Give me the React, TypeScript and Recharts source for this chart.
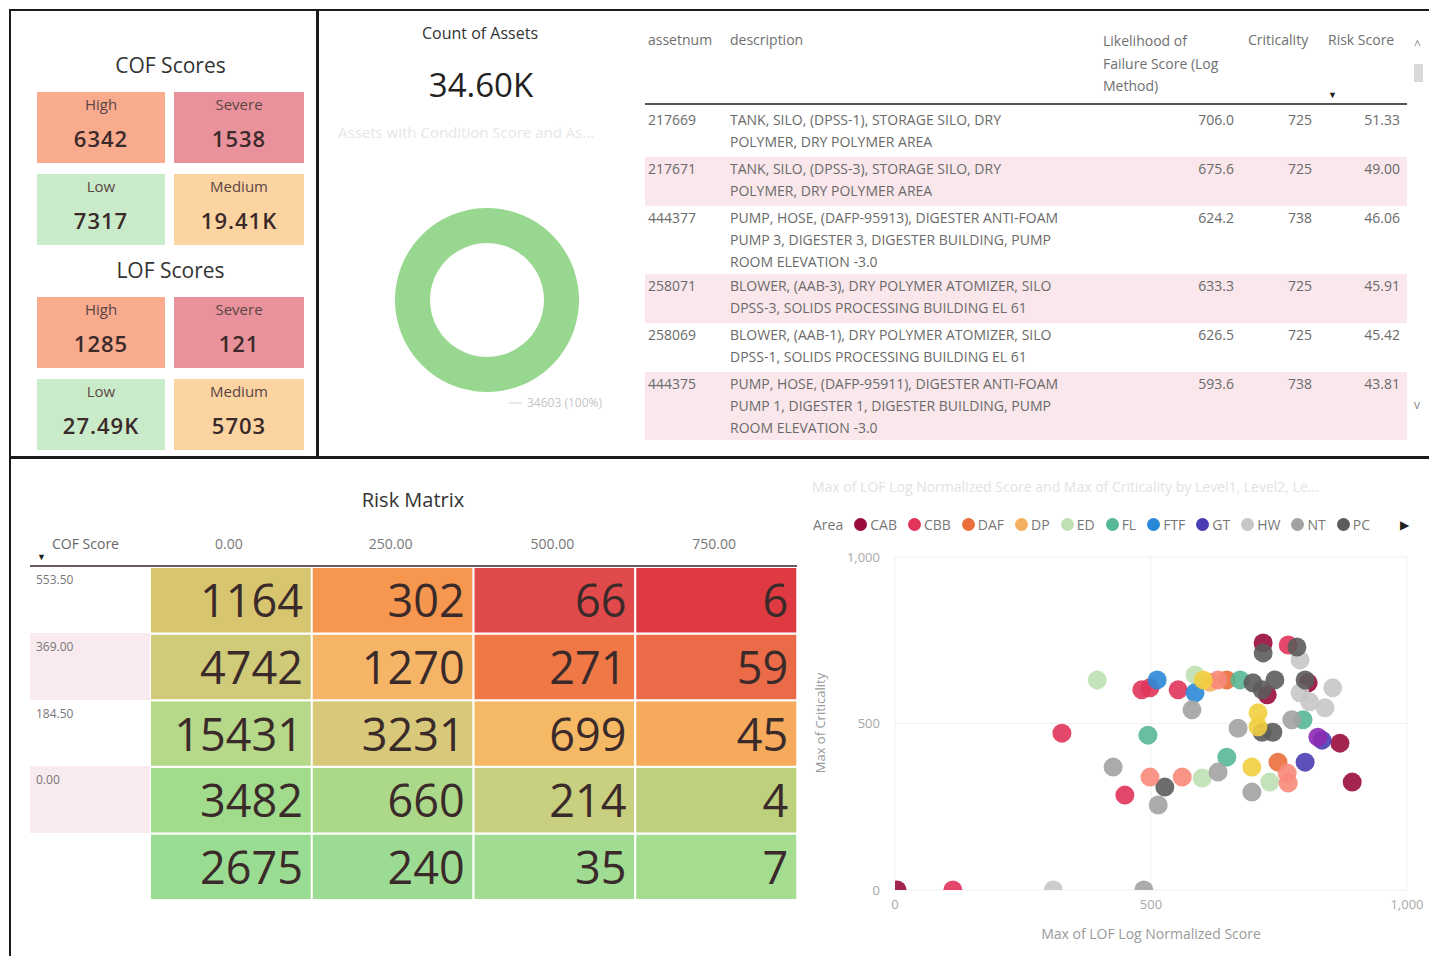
import React from "react";
import {
  PieChart,
  Pie,
  Cell,
  ScatterChart,
  Scatter,
  XAxis,
  YAxis,
  CartesianGrid,
  BarChart,
  Bar,
  LabelList,
} from "recharts";

const FONT = '"Segoe UI", "Open Sans", "Noto Sans", sans-serif';

// ---- score cards ----
const cardLabels = ["High", "Severe", "Low", "Medium"];
const cofValues = ["6342", "1538", "7317", "19.41K"];
const lofValues = ["1285", "121", "27.49K", "5703"];
const cardColors = ["#f9ab8e", "#e9929c", "#c9ebc9", "#fcd4a2"];

// ---- count of assets donut ----
const assetCount = [{ name: "Assets", value: 34603 }];
const assetCountLabel = "34.60K";

// ---- top assets table ----
const tableAssetnums = ["217669", "217671", "444377", "258071", "258069", "444375"];
const tableDescriptions = [
  ["TANK, SILO, (DPSS-1), STORAGE SILO, DRY", "POLYMER, DRY POLYMER AREA"],
  ["TANK, SILO, (DPSS-3), STORAGE SILO, DRY", "POLYMER, DRY POLYMER AREA"],
  ["PUMP, HOSE, (DAFP-95913), DIGESTER ANTI-FOAM", "PUMP 3, DIGESTER 3, DIGESTER BUILDING, PUMP", "ROOM ELEVATION -3.0"],
  ["BLOWER, (AAB-3), DRY POLYMER ATOMIZER, SILO", "DPSS-3, SOLIDS PROCESSING BUILDING EL 61"],
  ["BLOWER, (AAB-1), DRY POLYMER ATOMIZER, SILO", "DPSS-1, SOLIDS PROCESSING BUILDING EL 61"],
  ["PUMP, HOSE, (DAFP-95911), DIGESTER ANTI-FOAM", "PUMP 1, DIGESTER 1, DIGESTER BUILDING, PUMP", "ROOM ELEVATION -3.0"],
];
const tableLof = ["706.0", "675.6", "624.2", "633.3", "626.5", "593.6"];
const tableCrit = ["725", "725", "738", "725", "725", "738"];
const tableRisk = ["51.33", "49.00", "46.06", "45.91", "45.42", "43.81"];

// ---- risk matrix ----
const lofColumns = ["0.00", "250.00", "500.00", "750.00"];
const cofRows = ["553.50", "369.00", "184.50", "0.00", ""];
const matrixCounts = [
  [1164, 302, 66, 6],
  [4742, 1270, 271, 59],
  [15431, 3231, 699, 45],
  [3482, 660, 214, 4],
  [2675, 240, 35, 7],
];
const matrixColors = [
  ["#d8c56f", "#f6964f", "#e14a4a", "#df3a41"],
  ["#cfcb79", "#f6b566", "#ef7846", "#eb6a48"],
  ["#b5d889", "#d7c979", "#f5b966", "#f5ab5b"],
  ["#a1dc8d", "#acd889", "#c8cf7e", "#bdd07c"],
  ["#9adc92", "#9cdc92", "#a0dc91", "#a4dc90"],
];

// ---- scatter: LOF vs criticality by area ----
const areaNames = ["CAB", "CBB", "DAF", "DP", "ED", "FL", "FTF", "GT", "HW", "NT", "PC", "PS", "RAS", "SC"];
const areaColors = ["#9a0c3d", "#e0345a", "#ea6f3c", "#f4b060", "#bfe0b4", "#56b895", "#2a88d8", "#4a3db4", "#c6c6c6", "#a2a2a2", "#5c5c5c", "#f8897a", "#f2cf3f", "#8c2ab3"];
const legendCount = 11;

const cabPoints = [{ x: 727, y: 586 }, { x: 719, y: 742 }, { x: 807, y: 622 }, { x: 869, y: 441 }, { x: 893, y: 324 }, { x: 4, y: 0 }];
const cbbPoints = [{ x: 482, y: 601 }, { x: 498, y: 607 }, { x: 553, y: 601 }, { x: 768, y: 736 }, { x: 326, y: 471 }, { x: 449, y: 285 }, { x: 113, y: 0 }];
const dafPoints = [{ x: 648, y: 631 }, { x: 748, y: 384 }];
const dpPoints = [{ x: 615, y: 624 }];
const edPoints = [{ x: 395, y: 631 }, { x: 586, y: 646 }, { x: 600, y: 336 }, { x: 732, y: 324 }];
const flPoints = [{ x: 674, y: 631 }, { x: 797, y: 511 }, { x: 494, y: 465 }, { x: 648, y: 399 }];
const ftfPoints = [{ x: 512, y: 631 }, { x: 586, y: 592 }];
const gtPoints = [{ x: 834, y: 450 }, { x: 801, y: 384 }];
const hwPoints = [{ x: 791, y: 691 }, { x: 791, y: 592 }, { x: 855, y: 607 }, { x: 840, y: 547 }, { x: 810, y: 565 }, { x: 309, y: 0 }];
const ntPoints = [{ x: 580, y: 541 }, { x: 775, y: 511 }, { x: 670, y: 486 }, { x: 426, y: 369 }, { x: 631, y: 354 }, { x: 514, y: 255 }, { x: 697, y: 294 }, { x: 486, y: 0 }];
const pcPoints = [{ x: 699, y: 622 }, { x: 717, y: 601 }, { x: 742, y: 631 }, { x: 719, y: 712 }, { x: 785, y: 730 }, { x: 801, y: 631 }, { x: 738, y: 474 }, { x: 717, y: 474 }, { x: 527, y: 309 }];
const psPoints = [{ x: 631, y: 631 }, { x: 498, y: 339 }, { x: 561, y: 339 }, { x: 766, y: 351 }, { x: 768, y: 321 }];
const rasPoints = [{ x: 602, y: 631 }, { x: 709, y: 532 }, { x: 709, y: 490 }, { x: 697, y: 369 }];
const scPoints = [{ x: 826, y: 459 }];
const areaPoints = [cabPoints, cbbPoints, dafPoints, dpPoints, edPoints, flPoints, ftfPoints, gtPoints, hwPoints, ntPoints, pcPoints, psPoints, rasPoints, scPoints];
const scatterTicks = [0, 500, 1000];

const matrixData = lofColumns.map((col, c) => {
  const row: any = { col };
  cofRows.forEach((_, r) => {
    row[`r${r}`] = 1;
    row[`c${r}`] = matrixCounts[r][c];
  });
  return row;
});

function Card({ label, value, color, left, top, width, height }: any) {
  return (
    <div style={{ position: "absolute", left, top, width, height, background: color, textAlign: "center" }}>
      <div style={{ position: "absolute", top: 2, width: "100%", fontSize: 15, color: "#5a4545" }}>{label}</div>
      <div style={{ position: "absolute", top: 31, width: "100%", fontSize: 22, fontWeight: 600, letterSpacing: 1, color: "#3b2a2a" }}>{value}</div>
    </div>
  );
}

function ScoreBlock({ title, values, top }: any) {
  const cells = [
    [37, 0, 128],
    [174, 0, 130],
    [37, 82, 128],
    [174, 82, 130],
  ];
  return (
    <>
      <div style={{ position: "absolute", left: 37, top: top - 41, width: 267, textAlign: "center", fontSize: 21, color: "#333" }}>{title}</div>
      {values.map((v: string, i: number) => (
        <Card key={i} label={cardLabels[i]} value={v} color={cardColors[i]} left={cells[i][0]} top={top + cells[i][1]} width={cells[i][2]} height={71} />
      ))}
    </>
  );
}

const renderDonutLabel = (p: any) => {
  const { cx, cy, outerRadius, value, percent } = p;
  const y = cy + outerRadius + 11;
  return (
    <g>
      <line x1={cx + 22} y1={y} x2={cx + 35} y2={y} stroke="#d0d0d0" />
      <text x={cx + 40} y={y} dy={4} fontSize={12} fill="#c4c4c4" fontFamily={FONT}>
        {`${value} (${Math.round(percent * 100)}%)`}
      </text>
    </g>
  );
};

const MatrixLabel = (p: any) => {
  const { x, y, width, height, value } = p;
  return (
    <text x={x + width - 9} y={y + height / 2 + 17} textAnchor="end" fontSize={45} fill="#3b2a2a" fontFamily={FONT}>
      {value}
    </text>
  );
};

const Dot = (p: any) => <circle cx={p.cx} cy={p.cy} r={9.5} fill={p.fill} fillOpacity={0.9} />;

export default function App() {
  const rowTops: number[] = [];
  let acc = 108;
  tableDescriptions.forEach((lines) => {
    rowTops.push(acc);
    acc += 11 + 19 * lines.length;
  });

  return (
    <div style={{ position: "absolute", left: 0, top: 0, width: 1429, height: 956, overflow: "hidden", background: "#fff", fontFamily: FONT }}>
      {/* frame */}
      <div style={{ position: "absolute", left: 9, top: 9, width: 1420, height: 2, background: "#1a1a1a" }} />
      <div style={{ position: "absolute", left: 9, top: 9, width: 2, height: 947, background: "#1a1a1a" }} />
      <div style={{ position: "absolute", left: 316, top: 9, width: 3, height: 450, background: "#1a1a1a" }} />
      <div style={{ position: "absolute", left: 9, top: 456, width: 1420, height: 3, background: "#1a1a1a" }} />

      {/* score cards */}
      <ScoreBlock title="COF Scores" values={cofValues} top={92} />
      <ScoreBlock title="LOF Scores" values={lofValues} top={297} />

      {/* count of assets */}
      <div style={{ position: "absolute", left: 320, top: 22, width: 320, textAlign: "center", fontSize: 16, color: "#333" }}>Count of Assets</div>
      <div style={{ position: "absolute", left: 320, top: 62, width: 322, textAlign: "center", fontSize: 33, color: "#222" }}>{assetCountLabel}</div>
      <div style={{ position: "absolute", left: 338, top: 122, width: 290, fontSize: 15, color: "#e6e6e6", whiteSpace: "nowrap", overflow: "hidden" }}>
        Assets with Condition Score and As...
      </div>
      <div style={{ position: "absolute", left: 352, top: 190 }}>
        <PieChart width={260} height={230}>
          <Pie
            data={assetCount}
            dataKey="value"
            cx={130}
            cy={105}
            innerRadius={57}
            outerRadius={92}
            startAngle={90}
            endAngle={-270}
            stroke="none"
            label={renderDonutLabel}
            labelLine={false}
            isAnimationActive={false}
          >
            <Cell fill="#98d78f" />
          </Pie>
        </PieChart>
      </div>

      {/* table */}
      <div style={{ color: "#707070", fontSize: 14 }}>
        <div style={{ position: "absolute", left: 648, top: 30 }}>assetnum</div>
        <div style={{ position: "absolute", left: 730, top: 30 }}>description</div>
        <div style={{ position: "absolute", left: 1103, top: 30, lineHeight: "22.5px" }}>
          Likelihood of<br />Failure Score (Log<br />Method)
        </div>
        <div style={{ position: "absolute", left: 1248, top: 30 }}>Criticality</div>
        <div style={{ position: "absolute", left: 1328, top: 30 }}>Risk Score</div>
        <div style={{ position: "absolute", left: 1328, top: 88, fontSize: 9, color: "#222" }}>▼</div>
        <div style={{ position: "absolute", left: 645, top: 103, width: 762, height: 2, background: "#555" }} />
        {tableAssetnums.map((id, i) => {
          const lines = tableDescriptions[i];
          return (
            <div key={id} style={{ position: "absolute", left: 645, top: rowTops[i], width: 762, height: 11 + 19 * lines.length, background: i % 2 === 1 ? "#f9e7eb" : "#fff", lineHeight: "22px", color: "#6a6a6a" }}>
              <div style={{ position: "absolute", left: 3, top: 1 }}>{id}</div>
              <div style={{ position: "absolute", left: 85, top: 1, whiteSpace: "nowrap" }}>
                {lines.map((l, k) => (
                  <div key={k}>{l}</div>
                ))}
              </div>
              <div style={{ position: "absolute", right: 762 - 589, top: 1 }}>{tableLof[i]}</div>
              <div style={{ position: "absolute", right: 762 - 667, top: 1 }}>{tableCrit[i]}</div>
              <div style={{ position: "absolute", right: 762 - 755, top: 1 }}>{tableRisk[i]}</div>
            </div>
          );
        })}
        <div style={{ position: "absolute", left: 1414, top: 36, fontSize: 12, color: "#888" }}>^</div>
        <div style={{ position: "absolute", left: 1414, top: 64, width: 9, height: 18, background: "#d9d9d9" }} />
        <div style={{ position: "absolute", left: 1414, top: 396, fontSize: 12, color: "#888" }}>v</div>
      </div>

      {/* risk matrix */}
      <div style={{ position: "absolute", left: 10, top: 486, width: 806, textAlign: "center", fontSize: 20, color: "#333" }}>Risk Matrix</div>
      <div style={{ position: "absolute", left: 52, top: 534, fontSize: 14, color: "#666" }}>COF Score</div>
      <div style={{ position: "absolute", left: 37, top: 550, fontSize: 9, color: "#222" }}>▼</div>
      {lofColumns.map((c, i) => (
        <div key={c} style={{ position: "absolute", left: 150 + (i + 0.5) * (647 / 4) - 42, top: 534, width: 80, textAlign: "center", fontSize: 14, color: "#777" }}>{c}</div>
      ))}
      {cofRows.map((r, i) => (
        <div key={i} style={{ position: "absolute", left: 30, top: 566 + i * 66.8, width: 120, height: 66.8, background: i % 2 === 1 ? "#f8eaef" : "#fff" }}>
          <div style={{ position: "absolute", left: 6, top: 5, fontSize: 12, color: "#777" }}>{r}</div>
        </div>
      ))}
      <div style={{ position: "absolute", left: 30, top: 565, width: 767, height: 2, background: "#6e5a5a" }} />
      <div style={{ position: "absolute", left: 150, top: 567 }}>
        <BarChart width={647} height={333} data={matrixData} margin={{ top: 0, right: 0, bottom: 0, left: 0 }} barCategoryGap={0} barGap={0}>
          <XAxis dataKey="col" hide />
          <YAxis type="number" domain={[0, cofRows.length]} hide />
          {[4, 3, 2, 1, 0].map((r) => (
            <Bar key={r} dataKey={`r${r}`} stackId="m" isAnimationActive={false}>
              {lofColumns.map((_, c) => (
                <Cell key={c} fill={matrixColors[r][c]} stroke="#ffffff" strokeWidth={2} />
              ))}
              <LabelList dataKey={`c${r}`} content={MatrixLabel} />
            </Bar>
          ))}
        </BarChart>
      </div>

      {/* scatter */}
      <div style={{ position: "absolute", left: 812, top: 477, width: 610, fontSize: 14, color: "#e2e2e2", whiteSpace: "nowrap", overflow: "hidden" }}>
        Max of LOF Log Normalized Score and Max of Criticality by Level1, Level2, Le...
      </div>
      <div style={{ position: "absolute", left: 813, top: 515, display: "flex", alignItems: "center", fontSize: 14, color: "#777", whiteSpace: "nowrap" }}>
        <span style={{ marginRight: 11 }}>Area</span>
        {areaNames.slice(0, legendCount).map((n, i) => (
          <span key={n} style={{ display: "inline-flex", alignItems: "center", marginRight: 11 }}>
            <span style={{ width: 13, height: 13, borderRadius: 7, background: areaColors[i], marginRight: 3, display: "inline-block" }} />
            {n}
          </span>
        ))}
      </div>
      <div style={{ position: "absolute", left: 1400, top: 516, fontSize: 12, color: "#222" }}>▶</div>
      <div style={{ position: "absolute", left: 800, top: 540 }}>
        <ScatterChart width={629} height={410} margin={{ top: 17, right: 22, bottom: 0, left: 0 }}>
          <CartesianGrid stroke="#f0f0f0" />
          <XAxis
            type="number"
            dataKey="x"
            domain={[0, 1000]}
            ticks={scatterTicks}
            height={60}
            axisLine={false}
            tickLine={false}
            tickMargin={4}
            allowDataOverflow
            tick={{ fontSize: 13, fill: "#a8a8a8" }}
            tickFormatter={(v) => v.toLocaleString("en-US")}
          />
          <YAxis
            type="number"
            dataKey="y"
            domain={[0, 1000]}
            ticks={scatterTicks}
            width={95}
            axisLine={false}
            tickLine={false}
            tickMargin={9}
            allowDataOverflow
            tick={{ fontSize: 13, fill: "#a8a8a8" }}
            tickFormatter={(v) => v.toLocaleString("en-US")}
          />
          {areaNames.map((n, i) => (
            <Scatter key={n} name={n} data={areaPoints[i]} fill={areaColors[i]} shape={Dot} isAnimationActive={false} />
          ))}
        </ScatterChart>
      </div>
      <div style={{ position: "absolute", left: 951, top: 924, width: 400, textAlign: "center", fontSize: 14, color: "#9a9a9a" }}>
        Max of LOF Log Normalized Score
      </div>
      <div style={{ position: "absolute", left: 820, top: 724, width: 0, height: 0 }}>
        <div style={{ position: "absolute", left: -70, top: -10, width: 140, textAlign: "center", fontSize: 13, color: "#9a9a9a", transform: "rotate(-90deg)", whiteSpace: "nowrap" }}>
          Max of Criticality
        </div>
      </div>
    </div>
  );
}
